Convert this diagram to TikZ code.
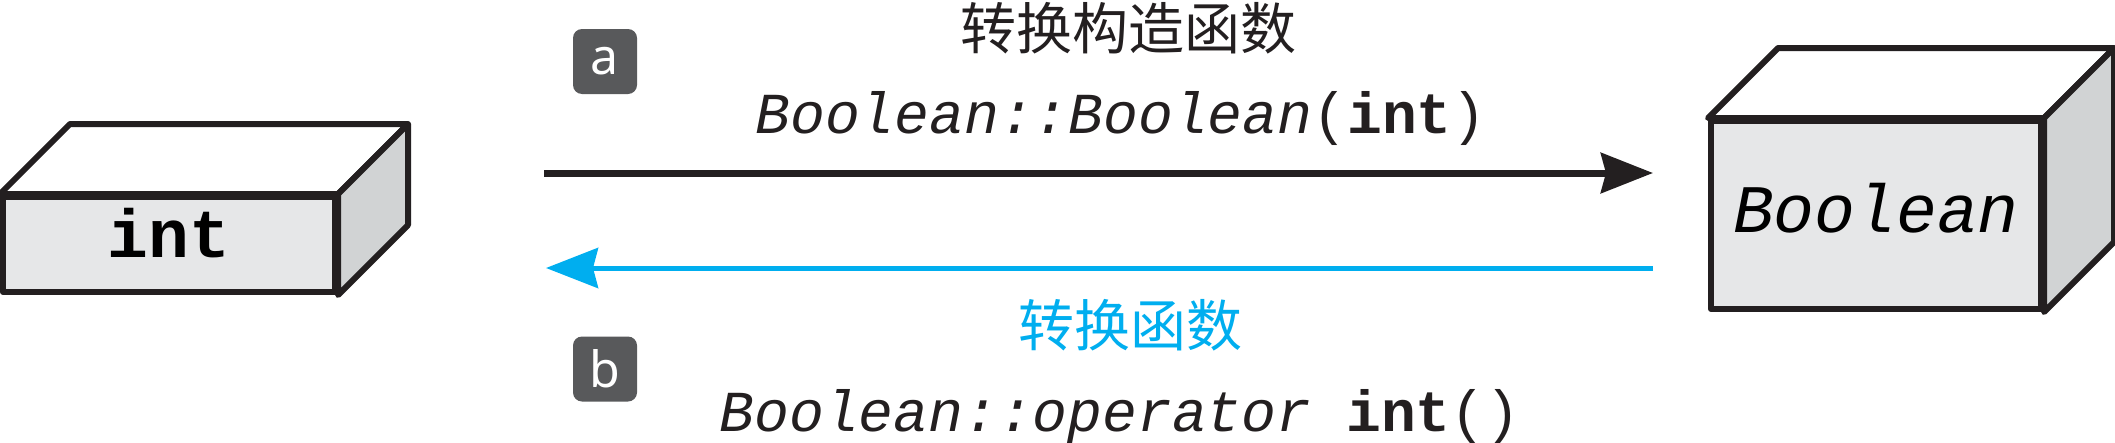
\documentclass[tikz,border=0pt]{standalone}
\usepackage{fontspec}
\setmonofont{Liberation Mono}
\newfontfamily\cjk{Noto Sans CJK SC}
\newfontfamily\badgefont{Noto Sans}
\usetikzlibrary{arrows.meta,positioning,calc}
\definecolor{inkblack}{HTML}{231F20}
\definecolor{boxfront}{HTML}{E6E7E8}
\definecolor{boxside}{HTML}{D1D3D4}
\definecolor{badgegray}{HTML}{58595B}
\definecolor{convblue}{HTML}{00AEEF}
\tikzset{
    front/.style = {draw=inkblack, line width=6pt, fill=boxfront, line join=round,
        inner sep=0pt, font=\fontsize{68}{68}\selectfont\ttfamily},
    face/.style = {draw=inkblack, line width=6pt, line join=round},
    badge/.style = {fill=badgegray, rounded corners=9pt, minimum width=64pt,
        minimum height=65pt, inner sep=0pt, text=white,
        font=\fontsize{50}{50}\selectfont\badgefont},
    sig/.style = {anchor=base, text=inkblack, font=\fontsize{58}{58}\selectfont\ttfamily},
    title/.style = {anchor=base, font=\fontsize{56}{56}\selectfont\cjk},
    arrow/.style = {draw, -{Stealth[length=52pt,width=40pt,inset=5pt]}}
}
\begin{document}
\begin{tikzpicture}[x=1pt, y=-1pt]
        \useasboundingbox (0,0) rectangle (2115,442);
        % the two boxes
        \node [front, minimum width=332pt, minimum height=95pt,
               text height=40pt, text depth=15pt, name=int] at (169,244.5) {\bfseries int};
        \node [front, minimum width=330pt, minimum height=188pt,
               text height=44pt, text depth=10pt, name=bool] at (1876,215) {\itshape Boolean};
        \foreach \b in {int,bool}{
            \draw [face, fill=white] (\b.north west) -- ++(70,-70) -- ($(\b.north east)+(70,-70)$) -- (\b.north east) -- cycle;
            \draw [face, fill=boxside] (\b.north east) -- ++(70,-70) -- ($(\b.south east)+(70,-70)$) -- (\b.south east) -- cycle;
            }
        % conversions
        \coordinate (ctorstart) at (544,173);
        \coordinate (ctorend) at (1653,173);
        \coordinate (convstart) at (1653,268);
        \coordinate (convend) at (546,268);
        \draw [arrow, inkblack, line width=7pt] (ctorstart) -- (ctorend);
        \draw [arrow, convblue, line width=5pt] (convstart) -- (convend);
        \node [title, text=inkblack, name=ctortitle] at (1128,49) {转换构造函数};
        \node [sig, name=ctorsig] at (1121,133) {\textit{Boolean::Boolean}(\textbf{int})};
        \node [title, text=convblue, name=convtitle] at (1130,346) {转换函数};
        \node [sig, name=convsig] at (1120,431) {\textit{Boolean::operator} \textbf{int}()};
        \node [badge, name=badgea] at (605,61.5) {a};
        \node [badge, below of=badgea, node distance=307.5pt, name=badgeb] {b};
\end{tikzpicture}
\end{document}
